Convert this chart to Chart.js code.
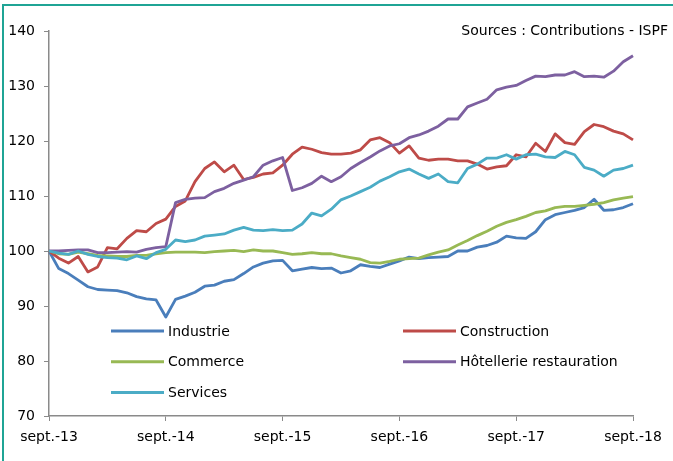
<!DOCTYPE html>
<html>
<head>
<meta charset="utf-8">
<script src="https://cdn.jsdelivr.net/npm/chart.js@4.4.1/dist/chart.umd.min.js"></script>
<style>
  html, body { margin: 0; padding: 0; background: #fff; }
  #wrap { position: relative; width: 673px; height: 461px; overflow: hidden; }
  #frame {
    position: absolute; left: 2px; top: 4px; width: 700px; height: 480px;
    border-left: 2px solid #1fa495; border-top: 2px solid #1fa495;
  }
  canvas { position: absolute; left: 0; top: 0; }
</style>
</head>
<body>
<div id="wrap">
  <div id="frame"></div>
  <canvas id="chart" width="673" height="461"></canvas>
</div>
<script>
const monthNames = ["sept.", "oct.", "nov.", "déc.", "janv.", "févr.", "mars", "avr.", "mai", "juin", "juil.", "août"];
const categories = [];
for (let i = 0; i <= 60; i++) {
  const yr = 13 + Math.floor((i + 8) / 12);
  categories.push(`${monthNames[i % 12]}-${yr}`);
}

const industrie = [100, 96.8, 95.9, 94.7, 93.5, 93.0, 92.9, 92.8, 92.4, 91.7, 91.3, 91.1, 88.0,
  91.2, 91.8, 92.5, 93.6, 93.8, 94.5, 94.8, 95.9, 97.1, 97.8, 98.2, 98.3,
  96.4, 96.7, 97.0, 96.8, 96.9, 96.0, 96.4, 97.5, 97.2, 97.0, 97.6, 98.2,
  98.9, 98.6, 98.8, 98.9, 99.0, 100.0, 100.0, 100.7, 101.0, 101.6, 102.7, 102.4,
  102.3, 103.5, 105.7, 106.6, 107.0, 107.4, 107.9, 109.4, 107.4, 107.5, 107.9, 108.6];

const construction = [100, 98.7, 97.8, 99.0, 96.2, 97.1, 100.6, 100.4, 102.3, 103.7, 103.5, 105.0, 105.8,
  108.1, 109.1, 112.6, 115.0, 116.2, 114.4, 115.6, 113.0, 113.4, 114.0, 114.2, 115.6,
  117.6, 118.9, 118.5, 117.9, 117.6, 117.6, 117.8, 118.4, 120.2, 120.6, 119.7, 117.8,
  119.1, 116.9, 116.5, 116.7, 116.7, 116.4, 116.4, 115.8, 114.9, 115.3, 115.5, 117.5,
  117.1, 119.6, 118.1, 121.3, 119.7, 119.4, 121.7, 123.0, 122.6, 121.8, 121.3, 120.2];

const commerce = [100, 99.5, 99.4, 99.8, 99.5, 99.2, 99.1, 99.0, 99.0, 99.2, 99.2, 99.5, 99.7,
  99.8, 99.8, 99.8, 99.7, 99.9, 100.0, 100.1, 99.9, 100.2, 100.0, 100.0, 99.7,
  99.4, 99.5, 99.7, 99.5, 99.5, 99.1, 98.8, 98.5, 97.9, 97.8, 98.1, 98.5,
  98.6, 98.7, 99.3, 99.8, 100.2, 101.1, 101.9, 102.8, 103.6, 104.5, 105.2, 105.7,
  106.3, 107.0, 107.3, 107.9, 108.1, 108.1, 108.3, 108.5, 108.8, 109.3, 109.6, 109.9];

const hotellerie = [100, 100, 100.1, 100.2, 100.2, 99.7, 99.7, 99.8, 99.9, 99.8, 100.3, 100.6, 100.8,
  108.8, 109.4, 109.6, 109.7, 110.8, 111.4, 112.3, 112.9, 113.5, 115.6, 116.4, 117.0,
  111.0, 111.5, 112.3, 113.6, 112.6, 113.5, 115.0, 116.1, 117.1, 118.2, 119.1, 119.5,
  120.6, 121.1, 121.8, 122.7, 124.0, 124.0, 126.2, 126.9, 127.6, 129.3, 129.8, 130.1,
  131.0, 131.8, 131.7, 132.0, 132.0, 132.6, 131.7, 131.8, 131.6, 132.7, 134.4, 135.5];

const services = [100, 99.6, 99.4, 100.0, 99.4, 99.0, 98.8, 98.7, 98.4, 99.1, 98.6, 99.7, 100.3,
  102.0, 101.7, 102.0, 102.7, 102.9, 103.1, 103.8, 104.3, 103.8, 103.7, 103.9, 103.7,
  103.8, 104.9, 106.9, 106.4, 107.6, 109.3, 110.0, 110.8, 111.6, 112.7, 113.5, 114.4,
  114.9, 114.0, 113.2, 114.0, 112.6, 112.4, 115.0, 115.8, 116.9, 116.9, 117.5, 116.7,
  117.5, 117.6, 117.1, 117.0, 118.1, 117.5, 115.2, 114.7, 113.6, 114.7, 115.0, 115.6];

const seriesNames = ["Industrie", "Construction", "Commerce", "Hôtellerie restauration", "Services"];
const seriesColors = ["#4a7ebb", "#be4b48", "#98b954", "#7d60a0", "#4bacc6"];
const seriesValues = [industrie, construction, commerce, hotellerie, services];

const FONT = "'DejaVu Sans', sans-serif";
const axisColor = "#8a8a8a";

const cornerLegend = {
  id: "cornerLegend",
  afterDraw(chart) {
    const ctx = chart.ctx;
    ctx.save();
    ctx.font = `14px ${FONT}`;
    ctx.textBaseline = "middle";
    ctx.fillStyle = "#000";
    chart.data.datasets.forEach((ds, k) => {
      const col = k % 2;
      const row = Math.floor(k / 2);
      const x = col ? 403 : 111;
      const y = 331 + row * 30.7;
      ctx.strokeStyle = ds.borderColor;
      ctx.lineWidth = 3;
      ctx.beginPath();
      ctx.moveTo(x, y);
      ctx.lineTo(x + 53, y);
      ctx.stroke();
      ctx.textAlign = "left";
      ctx.fillText(ds.label, x + 57, y + 1);
    });
    ctx.textAlign = "right";
    ctx.fillText("Sources : Contributions - ISPF", 668, 31);
    ctx.restore();
  }
};

new Chart(document.getElementById("chart"), {
  type: "line",
  data: {
    labels: categories,
    datasets: seriesNames.map((name, k) => ({
      label: name,
      data: seriesValues[k],
      borderColor: seriesColors[k],
      backgroundColor: seriesColors[k],
      borderWidth: 2.8,
      pointRadius: 0,
      tension: 0,
      borderJoinStyle: "round",
      order: 5 - k
    }))
  },
  options: {
    responsive: false,
    animation: false,
    layout: { padding: { left: 0, right: 40, top: 31, bottom: 0 } },
    plugins: { legend: { display: false }, tooltip: { enabled: false } },
    scales: {
      x: {
        type: "category",
        offset: false,
        afterBuildTicks: s => { s.ticks = s.ticks.filter(t => t.value % 12 === 0); },
        afterFit: s => { s.height = 45; },
        grid: { drawOnChartArea: false, drawTicks: true, tickLength: 5, color: axisColor },
        border: { color: axisColor, width: 1.5 },
        ticks: { autoSkip: false, maxRotation: 0, padding: 8, color: "#000", font: { family: FONT, size: 14 } }
      },
      y: {
        min: 70,
        max: 140,
        afterFit: s => { s.width = 49; },
        grid: { drawOnChartArea: false, drawTicks: true, tickLength: 5, color: axisColor },
        border: { color: axisColor, width: 1.5 },
        ticks: { stepSize: 10, padding: 9, color: "#000", font: { family: FONT, size: 14 } }
      }
    }
  },
  plugins: [cornerLegend]
});
</script>
</body>
</html>
